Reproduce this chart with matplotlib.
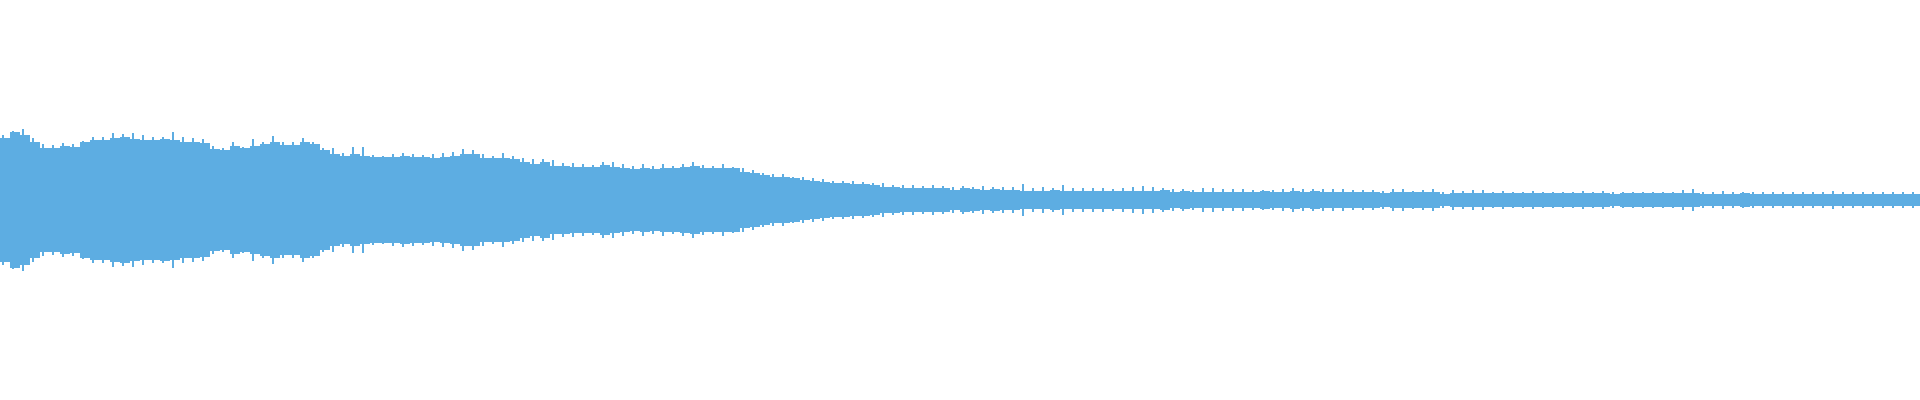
import numpy as np
import matplotlib
matplotlib.use("Agg")
import matplotlib.pyplot as plt

# Waveform envelope, read per 10-pixel time bin (units: 1/200 of full scale)
body_amp = [
    61.7, 67.7, 65, 57.7, 52.3, 51.7, 54.3, 53.3, 57.7, 60, 60, 61.7, 63.3, 61, 60, 60, 61, 60, 58.3, 58.3, 56.7, 51, 50, 54.3,
    51.7, 54.3, 55.7, 58.3, 55, 55, 58.3, 55.7, 50, 45.7, 44.3, 45.7, 44.3, 42.7, 42.7, 43.3, 44.3, 42.7, 42.7, 41.7, 42.7, 44.3, 45.7, 45.7,
    41.7, 41.7, 41.7, 41, 37.7, 35.7, 37.7, 34.3, 34.3, 33.3, 33.3, 33.3, 35, 33.3, 31.7, 31, 31.7, 31, 31.7, 31.7, 33.3, 34.3, 31.7, 32.3,
    31.7, 31.7, 28.3, 26.7, 25, 23.3, 23.3, 21.7, 20, 19, 17.7, 17.3, 16.7, 15.7, 15.7, 15, 13.3, 13.3, 12.3, 12.3, 12.3, 11.7, 11.7, 10,
    11.7, 10.7, 10, 10.7, 10, 10, 9.3, 9.3, 9.3, 10, 9.3, 9.3, 9, 9, 9, 9, 9, 9.3, 9, 9.3, 10, 8.3, 9, 8.3,
    8.3, 8.3, 8.3, 8.3, 8.3, 8.3, 9, 8.3, 8.3, 9, 8.3, 9, 8.3, 8.3, 8.3, 8.3, 8.3, 8.3, 7.3, 8.3, 8.3, 7.7, 7.7, 7.7,
    6, 7.3, 7.3, 7.3, 7.3, 7.3, 7.3, 6.7, 6.7, 7.3, 6.7, 6.7, 6.7, 6.7, 6.7, 6.7, 7.3, 6, 6.7, 6.7, 6.7, 6.7, 6.7, 6.7,
    6.7, 6.7, 6, 6, 6, 6, 6.7, 6, 6, 6, 6, 6, 6, 6, 6, 6, 6, 6, 6, 6, 6, 6, 6, 6,
]
peak_amp = [
    65, 69, 71, 61.7, 55.7, 55, 56.7, 56, 59, 63, 62.7, 66.7, 66, 66.7, 65, 63.3, 63.3, 67.7, 63.3, 61.7, 61, 54.3, 51.7, 57.7,
    53.3, 61, 58.3, 64, 58.3, 57.7, 61.7, 58.3, 51.7, 51.7, 46.7, 53.3, 53.3, 45, 44.3, 45.7, 46.7, 45.7, 45, 45.7, 46.7, 48.3, 50.7, 50,
    45.7, 44, 46.7, 44, 42.3, 40.7, 41, 40, 36.7, 36.7, 35.7, 35, 37.7, 37.7, 35.7, 34, 35.7, 34.3, 35.7, 34.3, 35.7, 38.3, 35, 34.3,
    35.7, 33.3, 31.7, 30, 26.7, 26, 25.7, 23.3, 23.3, 21.7, 21, 19, 19, 19, 18.3, 16.7, 16.7, 15, 15, 15, 14.3, 15, 14.3, 13.3,
    14, 13.3, 14, 13.3, 13.3, 13.3, 16, 11.7, 12.7, 11.7, 15, 11.7, 11.7, 11.7, 11.7, 10.7, 11.7, 12.7, 14, 12.7, 11.7, 10.7, 10.7, 10,
    11.7, 11.7, 10.7, 10.7, 10.7, 10, 10, 10, 10.7, 11.7, 10.7, 10.7, 10.7, 10.7, 10.7, 10, 10, 10, 9.3, 10.7, 10.7, 9.3, 10, 10.7,
    8.3, 10, 9.3, 10, 10, 8.3, 9.3, 8.3, 8.3, 9, 8.3, 8.3, 8.3, 8.3, 9.3, 8.3, 9, 8.3, 8.3, 8.3, 8.3, 8.3, 8.3, 8.3,
    10, 10.7, 8.3, 7.7, 9.3, 7.7, 8.3, 7.7, 7.7, 7.7, 8.3, 7.7, 8.3, 7.7, 8.3, 9.3, 8.3, 8.3, 8.3, 7.7, 7.7, 7.7, 8.3, 8.3,
]

color = "#5dade2"
body = np.array(body_amp)
peak = np.array(peak_amp)
n = len(body)
x = np.arange(n) + 0.5

fig = plt.figure(figsize=(19.2, 4.0), dpi=100)
ax = fig.add_axes([0, 0, 1, 1])
# body of the waveform as one bar per 10-px bin
ax.bar(x, 2 * body, bottom=-body, width=1.0, color=color, linewidth=0, antialiased=False)
# loudest sample in each bin
ax.bar(x - 0.2, 2 * peak, bottom=-peak, width=0.15, color=color, linewidth=0, antialiased=False)
ax.set_xlim(0, n)
ax.set_ylim(-200, 200)
ax.axis("off")
fig.savefig("out.png", dpi=100, facecolor="white")
